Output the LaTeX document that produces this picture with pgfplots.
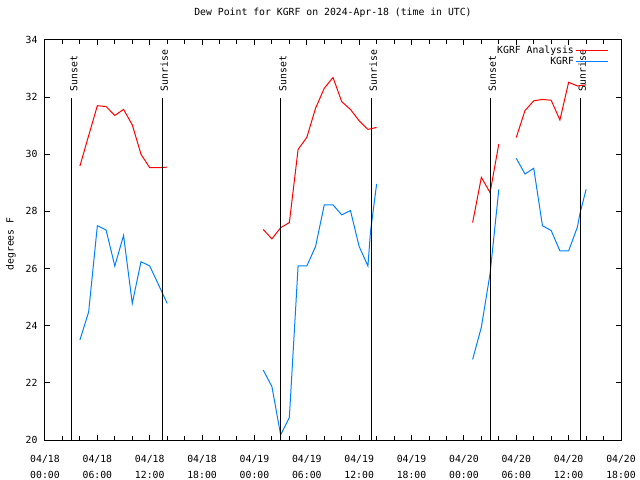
\documentclass[border=0pt]{standalone}
\usepackage{fontspec}
\setmainfont{DejaVu Sans Mono}
\usepackage{pgfplots}
\pgfplotsset{compat=1.18}
\definecolor{kred}{RGB}{255,0,0}
\definecolor{kblue}{RGB}{0,128,255}

\pgfplotstableread{
h v
4 29.59
5 30.65
6 31.70
7 31.67
8 31.36
9 31.57
10 31.03
11 30.00
12 29.53
13 29.53
14 29.55
20 nan
25 27.37
26 27.04
27 27.43
28 27.61
29 30.17
30 30.59
31 31.61
32 32.31
33 32.69
34 31.84
35 31.57
36 31.17
37 30.87
38 30.94
45 nan
49 27.61
50 29.19
51 28.66
52 30.36
53 nan
54 30.59
55 31.53
56 31.87
57 31.92
58 31.89
59 31.20
60 32.52
61 32.39
62 32.43
}\analysis

\pgfplotstableread{
h v
4 23.50
5 24.48
6 27.50
7 27.35
8 26.09
9 27.16
10 24.78
11 26.24
12 26.09
13 25.44
14 24.78
20 nan
25 22.45
26 21.87
27 20.18
28 20.79
29 26.09
30 26.09
31 26.77
32 28.23
33 28.23
34 27.88
35 28.03
36 26.77
37 26.09
37.3 27.30
38 28.96
45 nan
49 22.82
50 23.95
51 25.83
52 28.77
53 nan
54 29.86
55 29.31
56 29.51
57 27.50
58 27.33
59 26.62
60 26.62
61 27.45
61.3 27.93
62 28.77
}\kgrf

\begin{document}
\begin{tikzpicture}[font=\fontsize{9.8bp}{12bp}\selectfont]
\path[use as bounding box] (-45bp,-40bp) rectangle (595bp,440bp);
\begin{axis}[
  at={(0,0)}, anchor=south west,
  scale only axis, width=576bp, height=400bp,
  xmin=0, xmax=66, ymin=20, ymax=34,
  line width=1bp,
  unbounded coords=jump,
  xtick={0,6,...,66},
  xticklabels={{04/18\\00:00},{04/18\\06:00},{04/18\\12:00},{04/18\\18:00},
               {04/19\\00:00},{04/19\\06:00},{04/19\\12:00},{04/19\\18:00},
               {04/20\\00:00},{04/20\\06:00},{04/20\\12:00},{04/20\\18:00}},
  minor xtick={0,2,...,66},
  ytick={20,22,...,34},
  major tick length=5bp, minor tick length=4bp,
  tick style={black, line width=1bp},
  /pgf/number format/assume math mode=true,
  xticklabel style={align=center, inner sep=0pt, yshift=-15bp,
    font=\fontsize{9.8bp}{16bp}\selectfont},
  yticklabel style={inner sep=0pt, xshift=-7bp},
  ylabel={degrees F},
  ylabel style={at={(axis description cs:-0.059,0.49)}, anchor=center},
  title={Dew Point for KGRF on 2024-Apr-18 (time in UTC)},
  title style={at={(axis description cs:0.5,1)}, anchor=center, yshift=21bp},
  legend plot pos=right,
  legend cell align=right,
  legend image code/.code={\draw[#1] (0bp,0bp) -- (32bp,0bp);},
  legend style={draw=none, fill=none, at={(rel axis cs:0.979,0.991)},
    anchor=north east, inner sep=0pt, row sep=0pt,
    nodes={inner sep=1.5bp}},
]
\addplot[kred, line width=1bp] table[x=h,y=v] {\analysis};
\addlegendentry{KGRF Analysis}
\addplot[kblue, line width=1bp] table[x=h,y=v] {\kgrf};
\addlegendentry{KGRF}

\addplot[black, line width=1bp, forget plot] coordinates {(3.09,20) (3.09,31.96)};
\addplot[black, line width=1bp, forget plot] coordinates {(13.46,20) (13.46,31.96)};
\addplot[black, line width=1bp, forget plot] coordinates {(27.04,20) (27.04,31.96)};
\addplot[black, line width=1bp, forget plot] coordinates {(37.41,20) (37.41,31.96)};
\addplot[black, line width=1bp, forget plot] coordinates {(51.05,20) (51.05,31.96)};
\addplot[black, line width=1bp, forget plot] coordinates {(61.36,20) (61.36,31.96)};

\node[rotate=90, anchor=base west, inner sep=0pt] at (axis cs:3.71,32.19) {Sunset};
\node[rotate=90, anchor=base west, inner sep=0pt] at (axis cs:14.08,32.19) {Sunrise};
\node[rotate=90, anchor=base west, inner sep=0pt] at (axis cs:27.66,32.19) {Sunset};
\node[rotate=90, anchor=base west, inner sep=0pt] at (axis cs:38.03,32.19) {Sunrise};
\node[rotate=90, anchor=base west, inner sep=0pt] at (axis cs:51.67,32.19) {Sunset};
\node[rotate=90, anchor=base west, inner sep=0pt] at (axis cs:61.98,32.19) {Sunrise};
\end{axis}
\end{tikzpicture}
\end{document}
